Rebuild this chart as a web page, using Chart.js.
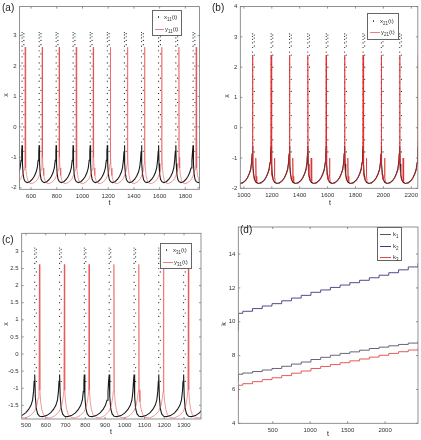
<!DOCTYPE html>
<html>
<head>
<meta charset="utf-8">
<script src="https://cdn.jsdelivr.net/npm/chart.js@4.4.1/dist/chart.umd.min.js"></script>
<style>
  body { margin: 0; background: #fff; width: 421px; height: 440px; position: relative; overflow: hidden;
         font-family: "Liberation Sans", Arial, sans-serif; color: #222; }
  canvas { position: absolute; }
  .lbl { position: absolute; font-size: 7px; line-height: 1; white-space: nowrap; transform: translate(-50%, -50%); }
  .pan { position: absolute; font-size: 10px; line-height: 1; }
  .leg { position: absolute; border: 0.8px solid #666; background: #fff; }
  .leg .row { position: absolute; left: 0; font-size: 6px; line-height: 1; white-space: nowrap; color: #333; }
  .leg sub { font-size: 4.5px; vertical-align: -1.5px; }
  .leg .dot { position: absolute; width: 1.4px; height: 1.4px; border-radius: 50%; background: #333; }
  .leg .ln { position: absolute; height: 1px; }
</style>
</head>
<body>
<canvas id="pa" width="210" height="215" style="left:0;top:0"></canvas>
<canvas id="pb" width="211" height="215" style="left:210px;top:0"></canvas>
<canvas id="pc" width="210" height="225" style="left:0;top:215px"></canvas>
<canvas id="pd" width="211" height="225" style="left:210px;top:215px"></canvas>
<script>
// ---- data ----

// spike column of the x series (same for every spike)
const dotUpV = [-0.5, -0.3, -0.1, 0.1, 0.3, 0.5, 0.7, 0.9, 1.1, 1.3, 1.5, 1.7, 1.9, 2.1, 2.3,
                2.5, 2.65, 2.8, 2.92, 3.02, 3.1];
const dotDownV = [3.06, 2.96, 2.84, 2.7, 2.4, 2.0, 1.6, 1.2, 0.8, 0.4, 0.0, -0.4, -0.8];

// (a)
const aSpikeT = [397, 530, 663, 795, 927, 1060, 1193, 1326, 1459, 1592, 1726, 1860, 1993];
const aXCycT = [0, 3, 8, 15, 25, 40, 60, 80, 95, 108, 118, 125, 130];
const aXCycV = [-0.6, -1.2, -1.55, -1.72, -1.8, -1.83, -1.8, -1.72, -1.62, -1.5, -1.35, -1.1, -0.8];
const aYLag = 24;
const aYCycT = [0, 2, 6, 12, 20, 35, 55, 80, 100, 115, 125, 130];
const aYCycV = [2.62, -1.0, -1.35, -1.6, -1.75, -1.85, -1.86, -1.8, -1.7, -1.55, -1.4, -1.2];
const aXTicks = [600, 800, 1000, 1200, 1400, 1600, 1800];
const aYTicks = [-2, -1, 0, 1, 2, 3];

// (b)
const bSpikeT = [930, 1062, 1195, 1327, 1458, 1590, 1722, 1854, 1985, 2117, 2249];
const bXCycT = [0, 3, 8, 15, 25, 40, 60, 80, 95, 108, 118, 125, 129];
const bXCycV = [-0.6, -1.2, -1.55, -1.72, -1.8, -1.84, -1.82, -1.75, -1.65, -1.52, -1.38, -1.15, -0.85];
const bYCycT = [0, 2, 6, 12, 18, 22, 24, 26, 30, 40, 60, 80, 95, 108, 118, 125, 129];
const bYCycV = [2.4, -1.2, -1.55, -1.7, -1.76, -1.6, -1.0, -1.6, -1.78, -1.84, -1.84, -1.76, -1.66, -1.53, -1.4, -1.18, -0.9];
const bXTicks = [1000, 1200, 1400, 1600, 1800, 2000, 2200];
const bYTicks = [-2, -1, 0, 1, 2, 3, 4];

// (c)
const cSpikeT = [418, 544, 670, 795, 921, 1047, 1172, 1298, 1424];
const cXCycT = [0, 3, 8, 15, 25, 40, 60, 80, 95, 107, 115, 120, 123];
const cXCycV = [-0.6, -1.25, -1.6, -1.75, -1.82, -1.83, -1.8, -1.72, -1.62, -1.5, -1.35, -1.1, -0.8];
const cYLag = 24;
const cYCycT = [0, 2, 6, 12, 20, 35, 55, 80, 100, 112, 119, 123];
const cYCycV = [2.62, -1.05, -1.4, -1.62, -1.77, -1.86, -1.87, -1.8, -1.68, -1.52, -1.3, -1.1];
const cXTicks = [500, 600, 700, 800, 900, 1000, 1100, 1200, 1300];
const cYTicks = [-1.5, -1, -0.5, 0, 0.5, 1, 1.5, 2, 2.5, 3];

// (d)
const dT  = [40, 40, 100, 230, 360, 490, 620, 750, 880, 1010, 1140, 1270, 1400, 1530, 1660, 1790, 1920, 2050, 2180, 2310, 2440];
const dK1 = [6.5, 6.9, 6.97, 7.06, 7.15, 7.24, 7.37, 7.5, 7.62, 7.77, 7.9, 8.02, 8.13, 8.22, 8.32, 8.42, 8.5, 8.58, 8.66, 8.74, 8.84];
const dK2 = [9.5, 10.5, 10.62, 10.78, 10.93, 11.07, 11.24, 11.4, 11.56, 11.74, 11.88, 12.03, 12.17, 12.31, 12.45, 12.6, 12.75, 12.9, 13.07, 13.24, 13.45];
const dK3 = [5.4, 6.25, 6.34, 6.46, 6.58, 6.69, 6.82, 6.96, 7.09, 7.24, 7.36, 7.47, 7.58, 7.69, 7.8, 7.91, 8.02, 8.13, 8.23, 8.33, 8.43];
const dXTicks = [500, 1000, 1500, 2000];
const dYTicks = [4, 6, 8, 10, 12, 14];

// ---- helpers ----
const FONT = '"Liberation Sans", Arial, sans-serif';

function spikeLine(spikes, lag, cycT, cycV) {
    var pts = [];
    spikes.forEach(s => cycT.forEach((dt, i) => pts.push({ x: s + lag + dt, y: cycV[i] })));
    return pts;
}

function spikeDots(spikes, downDt) {
    var pts = [];
    spikes.forEach(s => {
        dotUpV.forEach(v => pts.push({ x: s, y: v }));
        dotDownV.forEach(v => pts.push({ x: s + downDt, y: v }));
    });
    return pts;
}

function pairs(xs, ys) {
    return xs.map((x, i) => ({ x: x, y: ys[i] }));
}

// box around the axes with inward ticks on all sides (matlab style)
const framePlugin = {
    id: 'frame',
    afterDatasetsDraw(chart) {
        var ctx = chart.ctx, a = chart.chartArea, sx = chart.scales.x, sy = chart.scales.y;
        ctx.save();
        ctx.strokeStyle = '#777';
        ctx.lineWidth = 0.8;
        ctx.strokeRect(a.left, a.top, a.right - a.left, a.bottom - a.top);
        ctx.beginPath();
        sx.ticks.forEach(t => {
            var px = sx.getPixelForValue(t.value);
            ctx.moveTo(px, a.bottom); ctx.lineTo(px, a.bottom - 2);
            ctx.moveTo(px, a.top); ctx.lineTo(px, a.top + 2);
        });
        sy.ticks.forEach(t => {
            var py = sy.getPixelForValue(t.value);
            ctx.moveTo(a.left, py); ctx.lineTo(a.left + 2, py);
            ctx.moveTo(a.right, py); ctx.lineTo(a.right - 2, py);
        });
        ctx.stroke();
        ctx.restore();
    }
};

// box: canvas position/size and the wanted plot area, in page pixels
function makePanel(id, box, xr, yr, datasets) {
    var tickStyle = { font: { size: 6, family: FONT }, color: '#333', autoSkip: false, maxRotation: 0,
                      callback: v => String(v) };
    new Chart(document.getElementById(id), {
        type: 'scatter',
        data: { datasets: datasets },
        options: {
            responsive: false,
            animation: false,
            events: [],
            layout: {
                autoPadding: false,
                padding: { left: 0, top: box.top - box.y, right: box.x + box.w - box.right, bottom: 0 }
            },
            plugins: { legend: { display: false }, tooltip: { enabled: false } },
            scales: {
                x: {
                    type: 'linear', min: xr.min, max: xr.max,
                    afterBuildTicks: s => { s.ticks = xr.ticks.map(v => ({ value: v })); },
                    afterFit: s => { s.height = box.y + box.h - box.bottom; },
                    grid: { display: false, drawTicks: false },
                    border: { display: false },
                    ticks: Object.assign({ padding: 3 }, tickStyle)
                },
                y: {
                    type: 'linear', min: yr.min, max: yr.max,
                    afterBuildTicks: s => { s.ticks = yr.ticks.map(v => ({ value: v })); },
                    afterFit: s => { s.width = box.left - box.x; },
                    grid: { display: false, drawTicks: false },
                    border: { display: false },
                    ticks: Object.assign({ padding: 3 }, tickStyle)
                }
            }
        },
        plugins: [framePlugin]
    });
}

function blackLine(data) {
    return { data: data, showLine: true, borderColor: '#1a1a1a', borderWidth: 1.1, pointRadius: 0, order: 3 };
}
function blackDots(data) {
    return { data: data, showLine: false, pointRadius: 0.6, pointBorderWidth: 0,
             pointBackgroundColor: '#222', order: 2 };
}
function redLine(data, col) {
    return { data: data, showLine: true, borderColor: col, borderWidth: 1, pointRadius: 0, order: 1 };
}

// ---- text ----
function addText(cls, x, y, html, extra) {
    var d = document.createElement('div');
    d.className = cls;
    d.style.left = x + 'px';
    d.style.top = y + 'px';
    if (extra) d.style.cssText += extra;
    d.innerHTML = html;
    document.body.appendChild(d);
}

function addLegend(left, top, w, h, rows) {
    var box = document.createElement('div');
    box.className = 'leg';
    box.style.cssText = `left:${left}px;top:${top}px;width:${w}px;height:${h}px`;
    rows.forEach(r => {
        if (r.kind === 'dot') {
            var d = document.createElement('div');
            d.className = 'dot';
            d.style.left = '5px'; d.style.top = (r.y - 0.7) + 'px';
            box.appendChild(d);
        } else {
            var l = document.createElement('div');
            l.className = 'ln';
            l.style.cssText = `left:2px;width:${r.len}px;top:${r.y - 0.5}px;background:${r.color}`;
            box.appendChild(l);
        }
        var t = document.createElement('div');
        t.className = 'row';
        t.style.left = r.tx + 'px';
        t.style.top = (r.y - 3.5) + 'px';
        t.innerHTML = r.text;
        box.appendChild(t);
    });
    document.body.appendChild(box);
}

// ---- panels ----
makePanel('pa', { x: 0, y: 0, w: 210, h: 215, left: 19.5, right: 199.5, top: 1, bottom: 189.3 },
    { min: 510, max: 1910, ticks: aXTicks }, { min: -2.05, max: 3.95, ticks: aYTicks }, [
        blackLine(spikeLine(aSpikeT, 0, aXCycT, aXCycV)),
        blackDots(spikeDots(aSpikeT, 14)),
        redLine(spikeLine(aSpikeT, aYLag, aYCycT, aYCycV), 'rgba(232,70,70,0.55)')
    ]);

makePanel('pb', { x: 210, y: 0, w: 211, h: 215, left: 240.3, right: 420, top: 3.3, bottom: 188.3 },
    { min: 974, max: 2247, ticks: bXTicks }, { min: -2, max: 4, ticks: bYTicks }, [
        blackLine(spikeLine(bSpikeT, 0, bXCycT, bXCycV)),
        blackDots(spikeDots(bSpikeT, 12)),
        redLine(spikeLine(bSpikeT, 0, bYCycT, bYCycV), 'rgba(225,40,40,0.7)')
    ]);

makePanel('pc', { x: 0, y: 215, w: 210, h: 225, left: 21.7, right: 201, top: 233.3, bottom: 419 },
    { min: 478, max: 1386, ticks: cXTicks }, { min: -1.9, max: 3.53, ticks: cYTicks }, [
        blackLine(spikeLine(cSpikeT, 0, cXCycT, cXCycV)),
        blackDots(spikeDots(cSpikeT, 8)),
        redLine(spikeLine(cSpikeT, cYLag, cYCycT, cYCycV), 'rgba(232,70,70,0.55)')
    ]);

makePanel('pd', { x: 210, y: 215, w: 211, h: 225, left: 238.3, right: 418, top: 227, bottom: 423.3 },
    { min: 40, max: 2440, ticks: dXTicks }, { min: 4, max: 15.6, ticks: dYTicks }, [
        { data: pairs(dT, dK1), showLine: true, stepped: true, borderColor: '#555566', borderWidth: 0.9, pointRadius: 0 },
        { data: pairs(dT, dK2), showLine: true, stepped: true, borderColor: '#3a3a80', borderWidth: 0.9, pointRadius: 0 },
        { data: pairs(dT, dK3), showLine: true, stepped: true, borderColor: '#e04848', borderWidth: 0.9, pointRadius: 0 }
    ]);

// panel letters
addText('pan', 2, 3, '(a)');
addText('pan', 212, 3, '(b)');
addText('pan', 2, 235, '(c)');
addText('pan', 240, 225, '(d)');

// axis titles
addText('lbl', 109.5, 202, 't');
addText('lbl', 330, 202, 't');
addText('lbl', 111, 431, 't');
addText('lbl', 328, 433, 't');
addText('lbl', 5, 95, 'x', 'transform:translate(-50%,-50%) rotate(-90deg)');
addText('lbl', 226, 96, 'x', 'transform:translate(-50%,-50%) rotate(-90deg)');
addText('lbl', 5, 324, 'x', 'transform:translate(-50%,-50%) rotate(-90deg)');
addText('lbl', 223, 324, 'k', 'transform:translate(-50%,-50%) rotate(-90deg)');

// legends
addLegend(152, 10, 28, 24, [
    { kind: 'dot', y: 6, tx: 11, text: 'x<sub>11</sub>(t)' },
    { kind: 'line', y: 18, len: 9, color: 'rgba(232,70,70,0.7)', tx: 12, text: 'y<sub>11</sub>(t)' }
]);
addLegend(367, 13, 30, 25, [
    { kind: 'dot', y: 7, tx: 12, text: 'x<sub>21</sub>(t)' },
    { kind: 'line', y: 18, len: 10, color: 'rgba(232,70,70,0.7)', tx: 13, text: 'y<sub>21</sub>(t)' }
]);
addLegend(160, 243, 30, 24, [
    { kind: 'dot', y: 6, tx: 12, text: 'x<sub>31</sub>(t)' },
    { kind: 'line', y: 18, len: 10, color: 'rgba(232,70,70,0.7)', tx: 13, text: 'y<sub>31</sub>(t)' }
]);
addLegend(377, 227, 23, 32, [
    { kind: 'line', y: 6, len: 11, color: '#555566', tx: 15, text: 'k<sub>1</sub>' },
    { kind: 'line', y: 18, len: 11, color: '#3a3a80', tx: 15, text: 'k<sub>2</sub>' },
    { kind: 'line', y: 29, len: 11, color: '#e04848', tx: 15, text: 'k<sub>3</sub>' }
]);
</script>
</body>
</html>
